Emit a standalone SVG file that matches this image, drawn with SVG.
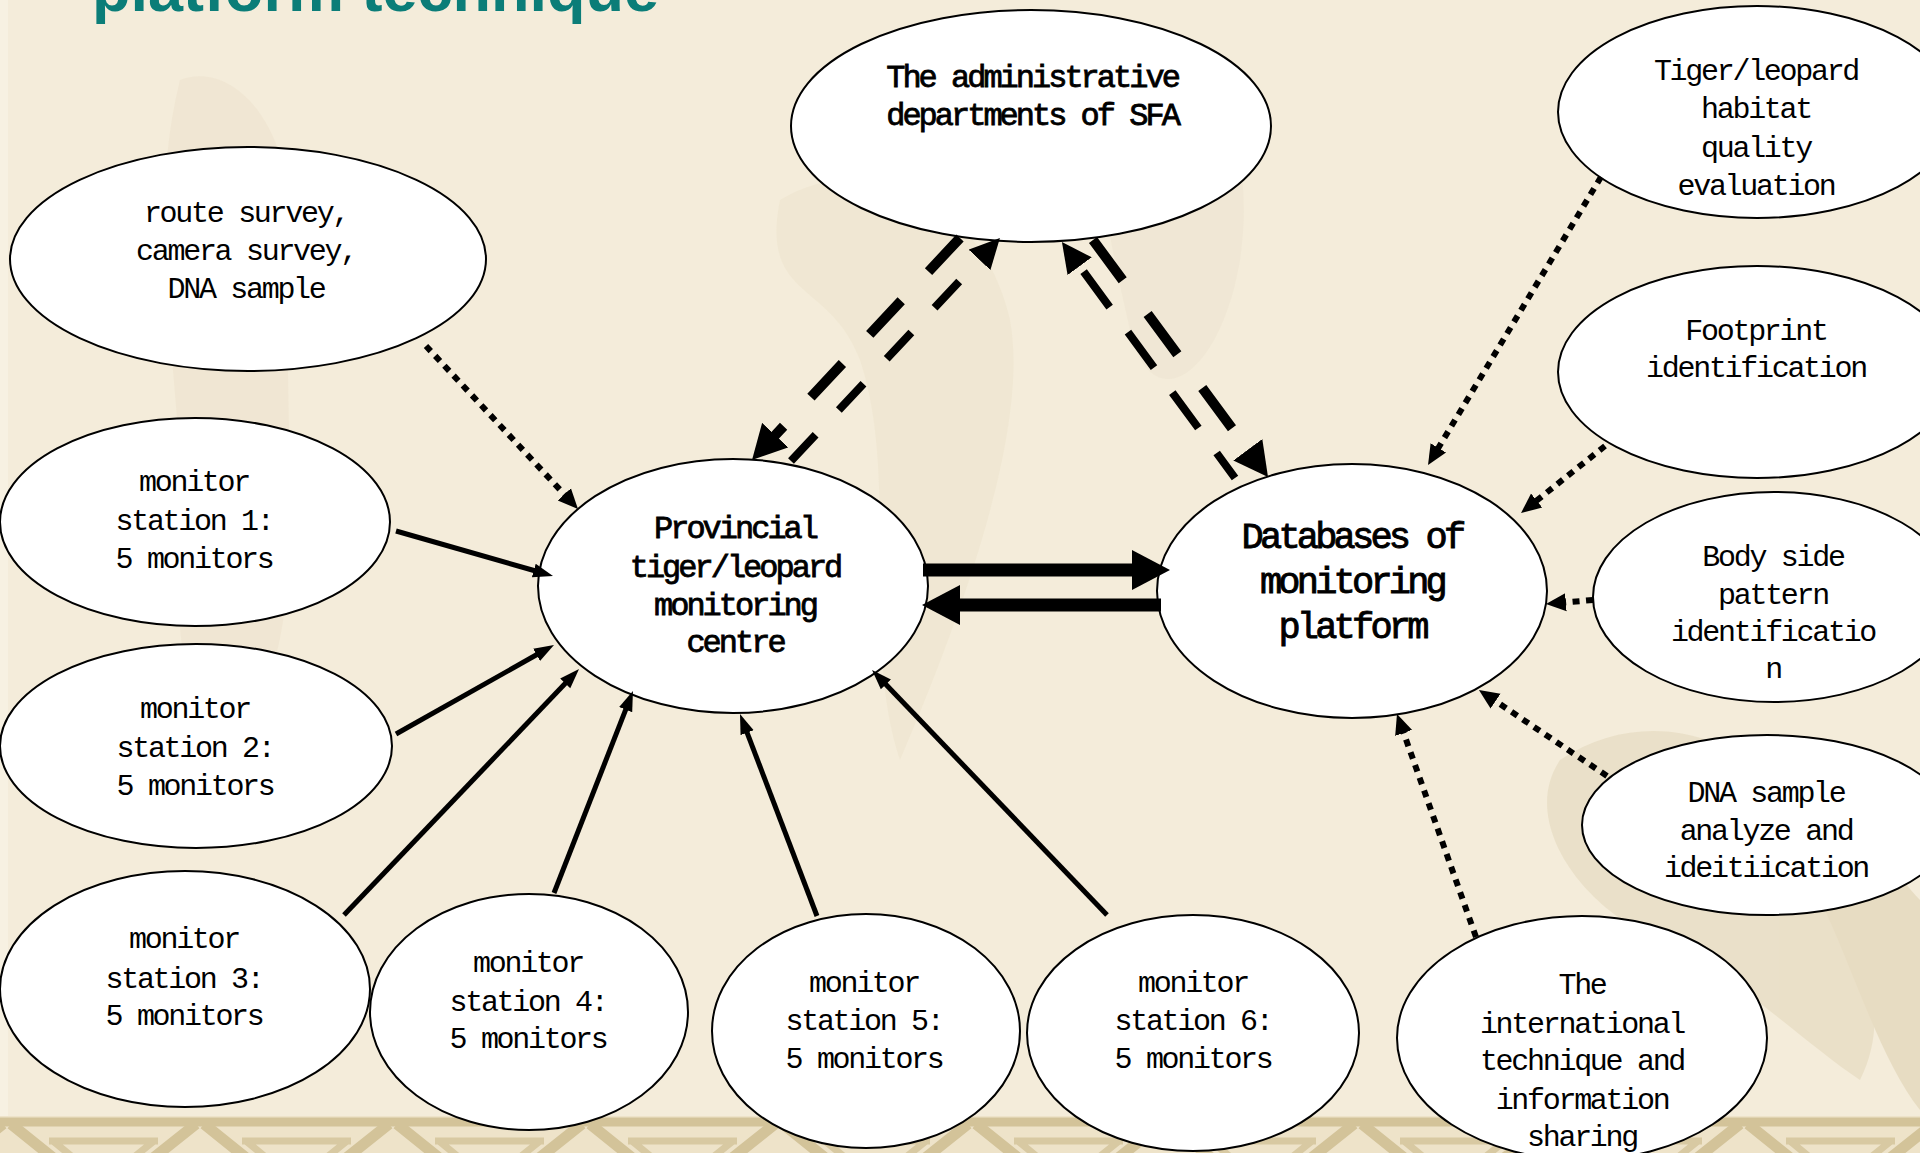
<svg xmlns="http://www.w3.org/2000/svg" width="1920" height="1153" viewBox="0 0 1920 1153">
<style>
.node ellipse{fill:#fff;stroke:#000;stroke-width:2}
.t{font-family:"Liberation Mono","DejaVu Sans Mono",monospace;font-size:30px;letter-spacing:-2.3px;text-anchor:middle;fill:#000}
.tb{font-size:32px;letter-spacing:-3px;stroke:#000;stroke-width:0.8px}
.tdb{font-size:37px;letter-spacing:-3.8px;stroke:#000;stroke-width:0.9px}
.sol{stroke:#000;stroke-width:5;fill:none;marker-end:url(#ah-s)}
.dot{stroke:#000;stroke-width:6;stroke-dasharray:7 6.5;fill:none;marker-end:url(#ah-d)}
.dshL{stroke:#000;stroke-width:10;fill:none;marker-end:url(#ah-L)}
.dshM{stroke:#000;stroke-width:8;fill:none;marker-end:url(#ah-M)}
.hor{stroke:#000;stroke-width:13;fill:none;marker-end:url(#ah-H)}
.title{font-family:"Liberation Sans",Arial,sans-serif;font-weight:bold;font-size:63px;fill:#0B7D78}
</style>
<defs>
<marker id="ah-s" markerUnits="userSpaceOnUse" markerWidth="22" markerHeight="16" refX="2" refY="8" orient="auto"><path d="M0,1 L20,8 L0,15 z" fill="#000"/></marker>
<marker id="ah-d" markerUnits="userSpaceOnUse" markerWidth="22" markerHeight="20" refX="2" refY="10" orient="auto"><path d="M0,1 L20,10 L0,19 z" fill="#000"/></marker>
<marker id="ah-L" markerUnits="userSpaceOnUse" markerWidth="36" markerHeight="36" refX="2" refY="18" orient="auto"><path d="M0,0 L34,18 L0,36 z" fill="#000"/></marker>
<marker id="ah-M" markerUnits="userSpaceOnUse" markerWidth="32" markerHeight="30" refX="2" refY="15" orient="auto"><path d="M0,0 L30,15 L0,30 z" fill="#000"/></marker>
<marker id="ah-H" markerUnits="userSpaceOnUse" markerWidth="40" markerHeight="40" refX="2" refY="20" orient="auto"><path d="M0,0 L38,20 L0,40 z" fill="#000"/></marker>
<pattern id="band" patternUnits="userSpaceOnUse" x="7" y="1116" width="193" height="40">
<rect width="193" height="40" fill="#EEE3C9"/>
<path d="M0,6 H193" stroke="#D3C399" stroke-width="9"/>
<path d="M4,8 L96,82 M189,8 L96,82" stroke="#D3C399" stroke-width="11" fill="none"/>
<path d="M42,25 H151 M46,25 L96,66 M147,25 L96,66" stroke="#D8C9A2" stroke-width="7" fill="none"/>
</pattern>
</defs>
<rect x="0" y="0" width="1920" height="1153" fill="#F4ECDA"/>
<g id="background" opacity="0.4">
<path d="M180,80 C230,60 300,120 290,260 C280,420 310,600 260,700 C220,760 170,700 180,560 C190,400 140,240 180,80 z" fill="#EADFC8"/>
<path d="M780,200 C860,150 980,190 1010,320 C1030,430 960,620 900,760 C860,640 900,480 860,360 C830,280 760,300 780,200 z" fill="#EBE0C9"/>
<path d="M1120,60 C1200,40 1260,120 1240,260 C1220,380 1150,420 1130,330 C1110,240 1080,120 1120,60 z" fill="#ECE2CC"/>
<path d="M1560,760 C1650,700 1760,740 1800,820 C1850,920 1900,1000 1860,1080 C1800,1040 1720,960 1640,930 C1580,900 1520,820 1560,760 z" fill="#DDCFAE"/>
<path d="M1820,780 C1860,820 1900,880 1920,900 L1920,1110 C1880,1060 1850,960 1820,900 z" fill="#D6C6A0"/>
</g>
<rect x="0" y="1116" width="1920" height="37" fill="url(#band)"/>
<rect x="0" y="0" width="8" height="1116" fill="#F8F2E4" opacity="0.8"/>
<text class="title" x="92" y="11">platform technique</text>

<g id="node-admin" class="node"><ellipse cx="1031" cy="126" rx="240" ry="116"/>
<text class="t tb" x="1032" y="87">The administrative</text>
<text class="t tb" x="1032" y="125">departments of SFA</text></g>

<g id="node-route" class="node"><ellipse cx="248" cy="259" rx="238" ry="112"/>
<text class="t" x="246" y="222">route survey,</text>
<text class="t" x="246" y="260">camera survey,</text>
<text class="t" x="246" y="298">DNA sample</text></g>

<g id="node-habitat" class="node"><ellipse cx="1757" cy="112" rx="199" ry="106"/>
<text class="t" x="1756" y="80">Tiger/leopard</text>
<text class="t" x="1756" y="118">habitat</text>
<text class="t" x="1756" y="157">quality</text>
<text class="t" x="1756" y="195">evaluation</text></g>

<g id="node-footprint" class="node"><ellipse cx="1757" cy="372" rx="199" ry="106"/>
<text class="t" x="1756" y="340">Footprint</text>
<text class="t" x="1756" y="377">identification</text></g>

<g id="node-body" class="node"><ellipse cx="1774" cy="597" rx="181" ry="105"/>
<text class="t" x="1773" y="566">Body side</text>
<text class="t" x="1773" y="604">pattern</text>
<text class="t" x="1773" y="641">identificatio</text>
<text class="t" x="1773" y="678">n</text></g>

<g id="node-dna" class="node"><ellipse cx="1767" cy="825" rx="185" ry="90"/>
<text class="t" x="1766" y="802">DNA sample</text>
<text class="t" x="1766" y="840">analyze and</text>
<text class="t" x="1766" y="877">ideitiication</text></g>

<g id="node-intl" class="node"><ellipse cx="1582" cy="1038" rx="185" ry="122"/>
<text class="t" x="1582" y="994">The</text>
<text class="t" x="1582" y="1033">international</text>
<text class="t" x="1582" y="1070">technique and</text>
<text class="t" x="1582" y="1109">information</text>
<text class="t" x="1582" y="1146">sharing</text></g>

<g id="node-provincial" class="node"><ellipse cx="733" cy="586" rx="195" ry="127"/>
<text class="t tb" x="735" y="538">Provincial</text>
<text class="t tb" x="735" y="577">tiger/leopard</text>
<text class="t tb" x="735" y="615">monitoring</text>
<text class="t tb" x="735" y="652">centre</text></g>

<g id="node-databases" class="node"><ellipse cx="1352" cy="591" rx="195" ry="127"/>
<text class="t tdb" x="1352" y="548">Databases of</text>
<text class="t tdb" x="1352" y="593">monitoring</text>
<text class="t tdb" x="1352" y="638">platform</text></g>

<g id="node-s1" class="node"><ellipse cx="195" cy="522" rx="195" ry="104"/>
<text class="t" x="194" y="491">monitor</text>
<text class="t" x="194" y="530">station 1:</text>
<text class="t" x="194" y="568">5 monitors</text></g>

<g id="node-s2" class="node"><ellipse cx="196" cy="746" rx="196" ry="102"/>
<text class="t" x="195" y="718">monitor</text>
<text class="t" x="195" y="757">station 2:</text>
<text class="t" x="195" y="795">5 monitors</text></g>

<g id="node-s3" class="node"><ellipse cx="185" cy="989" rx="185" ry="118"/>
<text class="t" x="184" y="948">monitor</text>
<text class="t" x="184" y="988">station 3:</text>
<text class="t" x="184" y="1025">5 monitors</text></g>

<g id="node-s4" class="node"><ellipse cx="529" cy="1012" rx="159" ry="118"/>
<text class="t" x="528" y="972">monitor</text>
<text class="t" x="528" y="1011">station 4:</text>
<text class="t" x="528" y="1048">5 monitors</text></g>

<g id="node-s5" class="node"><ellipse cx="866" cy="1031" rx="154" ry="117"/>
<text class="t" x="864" y="992">monitor</text>
<text class="t" x="864" y="1030">station 5:</text>
<text class="t" x="864" y="1068">5 monitors</text></g>

<g id="node-s6" class="node"><ellipse cx="1193" cy="1033" rx="166" ry="118"/>
<text class="t" x="1193" y="992">monitor</text>
<text class="t" x="1193" y="1030">station 6:</text>
<text class="t" x="1193" y="1068">5 monitors</text></g>

<g id="connectors">
<line class="sol" x1="396" y1="531" x2="535.7" y2="571"/>
<line class="sol" x1="396" y1="734" x2="538.3" y2="653.8"/>
<line class="sol" x1="344" y1="915" x2="566.6" y2="682"/>
<line class="sol" x1="554" y1="893" x2="626.4" y2="707.8"/>
<line class="sol" x1="817" y1="916" x2="746.4" y2="730.8"/>
<line class="sol" x1="1107" y1="915" x2="884.5" y2="683"/>
<line class="dot" x1="426" y1="346" x2="565.7" y2="495.8"/>
<line class="dot" x1="1601" y1="177" x2="1437.3" y2="449.6"/>
<line class="dot" x1="1605" y1="446" x2="1535.1" y2="501.8"/>
<line class="dot" x1="1593" y1="600" x2="1563.9" y2="602.5"/>
<line class="dot" x1="1607" y1="776" x2="1493.9" y2="700"/>
<line class="dot" x1="1476" y1="937" x2="1403" y2="731"/>
<line class="dshL" x1="960" y1="238" x2="773.9" y2="436.6" stroke-dasharray="46 40"/>
<line class="dshM" x1="791" y1="461" x2="980.8" y2="258.4" stroke-dasharray="36 34"/>
<line class="dshL" x1="1093" y1="240" x2="1249" y2="451.3" stroke-dasharray="50 42"/>
<line class="dshM" x1="1235" y1="478" x2="1078.5" y2="264.6" stroke-dasharray="44 31" stroke-dashoffset="13"/>
<line class="hor" x1="923" y1="570" x2="1134" y2="570"/>
<line class="hor" x1="1161" y1="605" x2="958" y2="605"/>
</g>
</svg>
